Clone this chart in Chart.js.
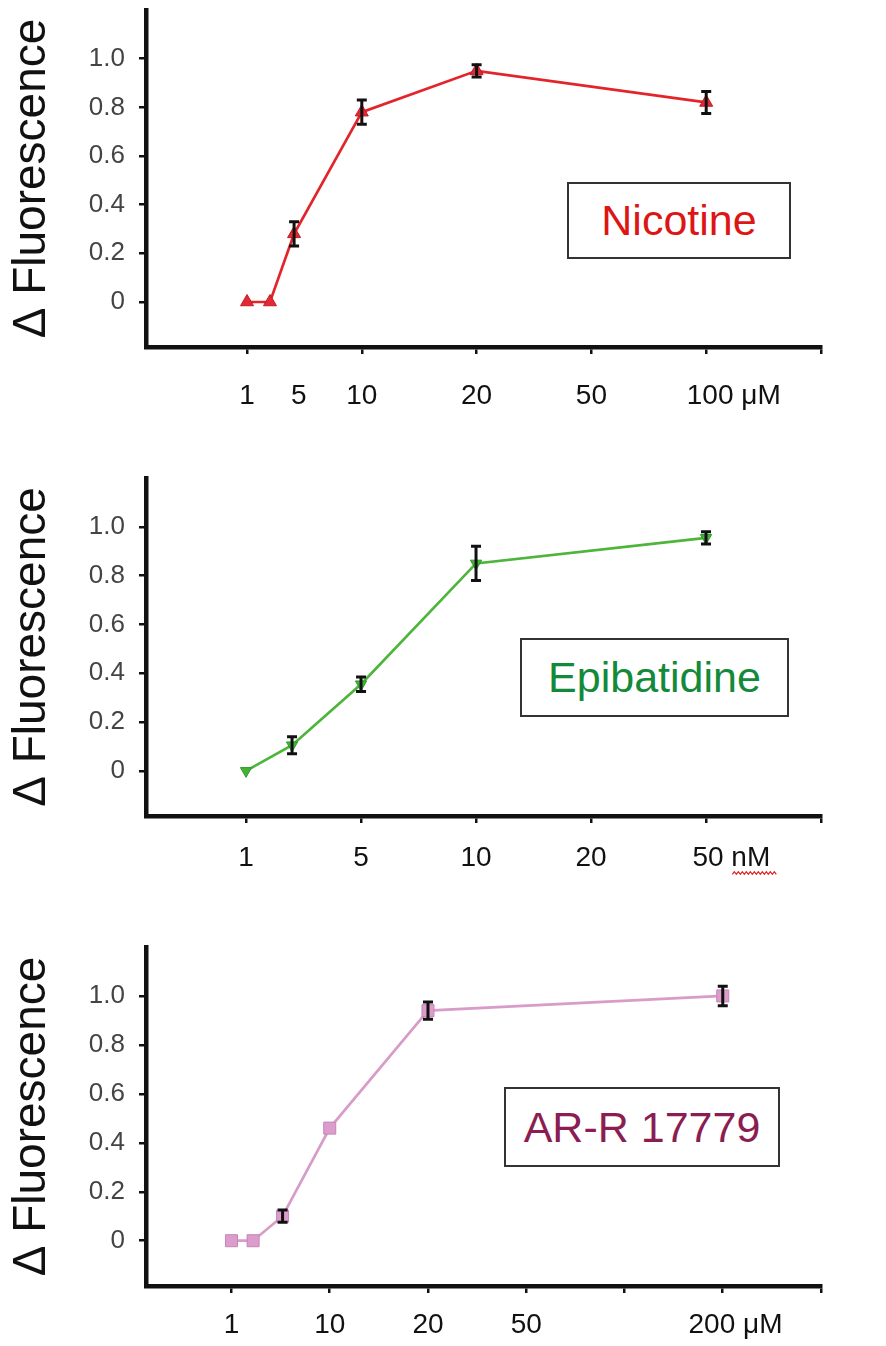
<!DOCTYPE html>
<html><head><meta charset="utf-8">
<script src="https://cdn.jsdelivr.net/npm/chart.js@4.4.1/dist/chart.umd.min.js"></script>
<style>
html,body{margin:0;padding:0;background:#fff;}
body{width:886px;height:1346px;position:relative;overflow:hidden;font-family:"Liberation Sans",Arial,sans-serif;}
.panel{position:absolute;left:0;width:886px;}
.legend{position:absolute;border:2px solid #333;box-sizing:border-box;display:flex;align-items:center;justify-content:center;font-size:43px;font-family:"Liberation Sans",Arial,sans-serif;background:#fff;line-height:1;}
</style></head><body>
<div class="panel" style="top:0;height:440px"><canvas id="c1" width="886" height="440"></canvas></div>
<div class="panel" style="top:440px;height:450px"><canvas id="c2" width="886" height="450"></canvas></div>
<div class="panel" style="top:890px;height:456px"><canvas id="c3" width="886" height="456"></canvas></div>
<div class="legend" style="left:567px;top:182px;width:224px;height:77px;color:#dd1515;">Nicotine</div>
<div class="legend" style="left:520px;top:638px;width:269px;height:79px;color:#13893a;">Epibatidine</div>
<div class="legend" style="left:504px;top:1087px;width:276px;height:80px;color:#8b1d52;">AR-R 17779</div>
<script>
// ---- shared y axis ----
const yTickValues = [0, 0.2, 0.4, 0.6, 0.8, 1.0];
const yTickLabels = ["0", "0.2", "0.4", "0.6", "0.8", "1.0"];
const yTitle = "Δ Fluorescence";

// ---- Nicotine (µM) ----
const nicX = [0, 0.2, 0.41, 1, 2, 4];
const nicY = [0, 0, 0.28, 0.78, 0.95, 0.82];
const nicErr = [0, 0, 0.05, 0.05, 0.025, 0.045];
const nicTickPos = [0, 0.45, 1, 2, 3, 4, 4.24, 5];
const nicTickLabels = ["1", "5", "10", "20", "50", "", "100 μM", ""];
const nicTickMarks = [1, 0, 1, 1, 1, 1, 0, 1];

// ---- Epibatidine (nM) ----
const epiX = [0, 0.4, 1, 2, 4];
const epiY = [0, 0.105, 0.355, 0.85, 0.955];
const epiErr = [0, 0.035, 0.03, 0.07, 0.025];
const epiTickPos = [0, 1, 2, 3, 4, 4.22, 5];
const epiTickLabels = ["1", "5", "10", "20", "", "50 nM", ""];
const epiTickMarks = [1, 1, 1, 1, 1, 0, 1];

// ---- AR-R 17779 (µM) ----
const arX = [0, 0.22, 0.52, 1, 2, 5];
const arY = [0, 0, 0.10, 0.46, 0.94, 1.0];
const arErr = [0, 0, 0.025, 0, 0.035, 0.04];
const arTickPos = [0, 1, 2, 3, 4, 5, 5.13, 6];
const arTickLabels = ["1", "10", "20", "50", "", "", "200 μM", ""];
const arTickMarks = [1, 1, 1, 1, 1, 1, 0, 1];

const FONT = '"Liberation Sans", Arial, sans-serif';

function build(id, p) {
  const errorBars = {
    id: 'errorBars',
    afterDatasetsDraw(chart) {
      const {ctx, scales: {x, y}} = chart;
      ctx.save();
      ctx.strokeStyle = '#111';
      ctx.lineWidth = 3;
      p.xs.forEach((xv, i) => {
        const e = p.err[i];
        if (!e) return;
        const px = x.getPixelForValue(xv);
        const t = y.getPixelForValue(p.ys[i] + e);
        const b = y.getPixelForValue(p.ys[i] - e);
        ctx.beginPath();
        ctx.moveTo(px, t); ctx.lineTo(px, b);
        ctx.moveTo(px - 5, t); ctx.lineTo(px + 5, t);
        ctx.moveTo(px - 5, b); ctx.lineTo(px + 5, b);
        ctx.stroke();
      });
      ctx.restore();
    }
  };
  return new Chart(document.getElementById(id), {
    type: 'scatter',
    data: {
      datasets: [{
        data: p.xs.map((xv, i) => ({x: xv, y: p.ys[i]})),
        showLine: true,
        borderColor: p.line,
        borderWidth: 2.7,
        pointStyle: p.marker,
        rotation: p.rot || 0,
        pointRadius: p.r,
        pointBackgroundColor: p.fill,
        pointBorderColor: p.pointBorder,
        pointBorderWidth: 1,
        clip: false
      }]
    },
    options: {
      responsive: false,
      animation: false,
      layout: {padding: {top: p.top, right: 65, left: 0, bottom: 0}},
      plugins: {legend: {display: false}, tooltip: {enabled: false}},
      scales: {
        x: {
          type: 'linear', min: p.xMin, max: p.xMax,
          afterBuildTicks(s) { s.ticks = p.tickPos.map(v => ({value: v})); },
          afterFit(s) { s.height = p.xh; s.paddingLeft = 0; s.paddingRight = 0; },
          ticks: {
            autoSkip: false, maxRotation: 0, minRotation: 0, padding: p.labPad,
            color: '#111', font: {family: FONT, size: 28},
            callback: (v, i) => p.tickLabels[i]
          },
          grid: {
            drawOnChartArea: false, drawTicks: true, tickLength: 7, lineWidth: 2.5,
            color: c => p.tickMarks[c.index] ? '#111' : 'rgba(0,0,0,0)'
          },
          border: {display: true, color: '#111', width: 4.5}
        },
        y: {
          min: -0.185, max: 1.2,
          afterBuildTicks(s) { s.ticks = yTickValues.map(v => ({value: v})); },
          afterFit(s) { s.width = 146; s.paddingTop = 0; s.paddingBottom = 0; },
          ticks: {
            color: '#444', font: {family: FONT, size: 26}, padding: 14,
            callback: (v, i) => yTickLabels[i]
          },
          grid: {drawOnChartArea: false, drawTicks: true, tickLength: 7, lineWidth: 2.5, color: '#111'},
          border: {display: true, color: '#111', width: 4.5},
          title: {display: true, text: yTitle, color: '#111', font: {family: FONT, size: 46}, padding: {top: 5, bottom: 0}}
        }
      }
    },
    plugins: [errorBars].concat(p.extra ? [p.extra] : [])
  });
}

build('c1', {
  xs: nicX, ys: nicY, err: nicErr,
  tickPos: nicTickPos, tickLabels: nicTickLabels, tickMarks: nicTickMarks,
  xMin: -0.88, xMax: 5, top: 10, xh: 93, labPad: 25,
  line: '#e3242b', marker: 'triangle', r: 7.5, fill: '#e02a35', pointBorder: '#c41a22'
});

const squiggle = {
  id: 'squiggle',
  afterDraw(chart) {
    const {ctx, scales: {x}} = chart;
    const x0 = x.getPixelForValue(epiTickPos[5]) + 1;
    const yy = x.top + 57;
    ctx.save();
    ctx.strokeStyle = '#e0262a';
    ctx.lineWidth = 1.3;
    ctx.beginPath();
    for (let k = 0; k <= 22; k++) {
      const px = x0 + k * 2;
      const py = yy + (k % 2 ? -1.3 : 1.3);
      if (k === 0) ctx.moveTo(px, py); else ctx.lineTo(px, py);
    }
    ctx.stroke();
    ctx.restore();
  }
};

build('c2', {
  xs: epiX, ys: epiY, err: epiErr,
  tickPos: epiTickPos, tickLabels: epiTickLabels, tickMarks: epiTickMarks,
  xMin: -0.87, xMax: 5, top: 38, xh: 74, labPad: 18,
  line: '#4cb53a', marker: 'triangle', rot: 180, r: 6.5, fill: '#45b236', pointBorder: '#2e9a2e',
  extra: squiggle
});

build('c3', {
  xs: arX, ys: arY, err: arErr,
  tickPos: arTickPos, tickLabels: arTickLabels, tickMarks: arTickMarks,
  xMin: -0.87, xMax: 6, top: 57, xh: 60, labPad: 15,
  line: '#d89cc8', marker: 'rect', r: 8.5, fill: '#dc9ccc', pointBorder: '#c487b6'
});
</script>
</body></html>
